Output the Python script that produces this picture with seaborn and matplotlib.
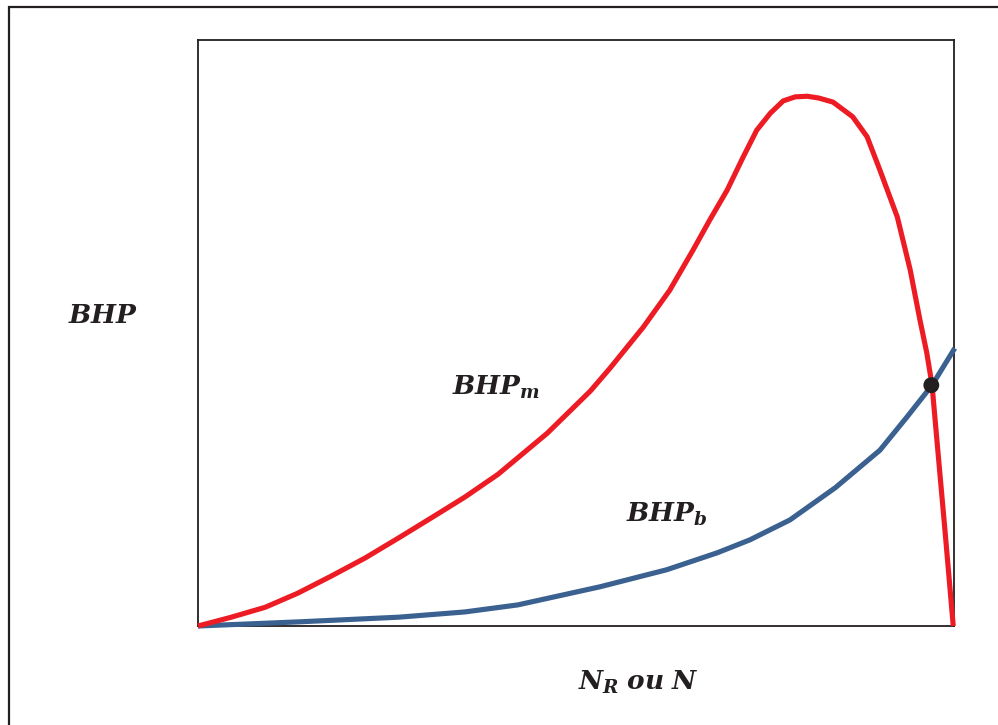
import matplotlib
matplotlib.use("Agg")
import matplotlib.pyplot as plt
import seaborn as sns
import pandas as pd
from matplotlib.patches import Rectangle

# Engine speed (normalised) and brake horsepower curves
n_motor = [0.000, 0.044, 0.089, 0.132, 0.176, 0.221, 0.265, 0.308, 0.353,
           0.397, 0.462, 0.519, 0.545, 0.589, 0.624, 0.655, 0.677, 0.700,
           0.721, 0.739, 0.757, 0.774, 0.790, 0.806, 0.821, 0.840, 0.866,
           0.885, 0.902, 0.925, 0.942, 0.955, 0.964, 0.971, 0.975, 0.981,
           0.988, 0.999]
bhp_motor = [0.000, 0.015, 0.032, 0.056, 0.085, 0.116, 0.150, 0.184, 0.220,
             0.259, 0.329, 0.401, 0.440, 0.510, 0.573, 0.642, 0.693, 0.744,
             0.800, 0.846, 0.875, 0.896, 0.903, 0.904, 0.901, 0.894, 0.869,
             0.835, 0.778, 0.698, 0.608, 0.522, 0.466, 0.411, 0.352, 0.265,
             0.164, 0.000]

n_bomba = [0.000, 0.132, 0.265, 0.353, 0.423, 0.532, 0.620, 0.687, 0.730,
           0.783, 0.843, 0.902, 0.938, 0.971, 1.001]
bhp_bomba = [0.000, 0.007, 0.015, 0.024, 0.036, 0.067, 0.096, 0.125, 0.147,
             0.181, 0.236, 0.300, 0.357, 0.411, 0.474]

# Operating point: where the two curves cross
n_op = [0.970]
bhp_op = [0.411]

RED = "#ED1C24"
BLUE = "#3A6190"
INK = "#231F20"

sns.set_theme(style="white")
plt.rcParams["mathtext.fontset"] = "custom"
plt.rcParams["mathtext.it"] = "DejaVu Serif:italic:bold"
plt.rcParams["mathtext.rm"] = "DejaVu Serif:bold"
plt.rcParams["mathtext.bf"] = "DejaVu Serif:bold"

W, H = 998, 725
fig = plt.figure(figsize=(W / 100, H / 100), dpi=100)
ax = fig.add_axes([198 / W, 1 - 626 / H, (954 - 198) / W, (626 - 40) / H])

motor = pd.DataFrame({"N": n_motor, "BHP": bhp_motor})
bomba = pd.DataFrame({"N": n_bomba, "BHP": bhp_bomba})

line_kw = dict(lw=3.7, sort=False, estimator=None, clip_on=False,
               solid_joinstyle="round", solid_capstyle="butt")
sns.lineplot(data=bomba, x="N", y="BHP", ax=ax, color=BLUE, zorder=4,
             **line_kw)
sns.lineplot(data=motor, x="N", y="BHP", ax=ax, color=RED, zorder=5,
             **line_kw)
sns.scatterplot(x=n_op, y=bhp_op, ax=ax, color=INK, s=130, edgecolor="none",
                zorder=6, clip_on=False)

ax.set_xlim(0, 1)
ax.set_ylim(0, 1)
ax.set_xticks([])
ax.set_yticks([])
ax.set_xlabel("")
ax.set_ylabel("")
for sp in ax.spines.values():
    sp.set_visible(True)
    sp.set_color(INK)
    sp.set_linewidth(1.3)

# Labels
txt = dict(xycoords="figure pixels", fontsize=19, color=INK, ha="left",
           va="baseline")
ax.annotate(r"$BHP$", xy=(68, H - 323), **txt)
ax.annotate(r"$BHP_m$", xy=(452, H - 395), **txt)
ax.annotate(r"$BHP_b$", xy=(626, H - 522), **txt)
ax.annotate(r"$N_R\;ou\;N$", xy=(578, H - 690), **txt)

# Outer frame
fig.patches.append(Rectangle((9 / W, -0.05), 1.1, 1 - 7 / H + 0.05,
                             transform=fig.transFigure, fill=False,
                             edgecolor=INK, lw=1.6, zorder=0))

fig.savefig("out.png", dpi=100)
